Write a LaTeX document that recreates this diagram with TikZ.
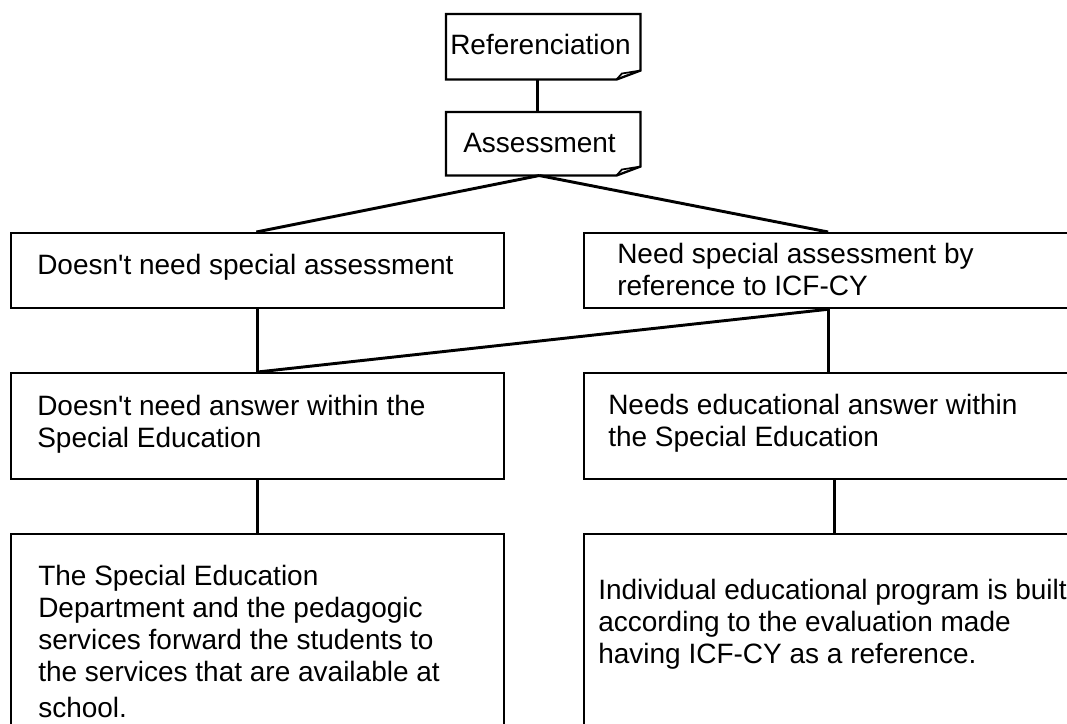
\documentclass[tikz,border=0pt]{standalone}
\usepackage{fontspec}
\newfontfamily\plainfont{Liberation Sans}
\usetikzlibrary{calc}
\begin{document}
\begin{tikzpicture}[x=0.75pt,y=-0.75pt,
  boxshape/.style={draw=black,line width=1.7pt,inner sep=0pt,anchor=north west,fill=white},
  noteshape/.style={draw=none,inner sep=0pt,anchor=north west},
  label/.style={anchor=base west,inner sep=0pt,align=left,font=\plainfont\fontsize{21}{24}\selectfont},
  link/.style={draw=black,line width=2.2pt}]
\useasboundingbox[fill=white] (0,0) rectangle (1067,724);
% note shapes
\node[noteshape,minimum width=145.5pt,minimum height=48.75pt] (ref) at (446,14) {};
\node[noteshape,minimum width=145.5pt,minimum height=47.25pt] (ass) at (446,112) {};
\foreach \n in {ref,ass}{
  \draw[line width=1.7pt,line join=miter]
    (\n.north west) -- (\n.north east) -- ([yshift=6.75pt]\n.south east)
    -- ([xshift=-18pt]\n.south east) -- (\n.south west) -- cycle;
  \draw[line width=1.3pt]
    ([xshift=-18pt]\n.south east) -- ([xshift=-14pt,yshift=4.5pt]\n.south east)
    -- ([yshift=6.75pt]\n.south east);
}
% boxes
\node[boxshape,minimum width=369.75pt,minimum height=56.25pt] (b1) at (10,232) {};
\node[boxshape,minimum width=366pt,minimum height=56.25pt] (b2) at (583,232) {};
\node[boxshape,minimum width=369.75pt,minimum height=79.5pt] (b3) at (10,372) {};
\node[boxshape,minimum width=366pt,minimum height=79.5pt] (b4) at (583,372) {};
\node[boxshape,minimum width=369.75pt,minimum height=150pt] (b5) at (10,533) {};
\node[boxshape,minimum width=366pt,minimum height=150pt] (b6) at (583,533) {};
% connectors
\coordinate (assb) at ([xshift=-3pt]ass.south);
\draw[link] ([xshift=-4.5pt]ref.south) -- ([xshift=-4.5pt]ass.north);
\draw[link] (assb) -- ([xshift=-1pt]b1.north);
\draw[link] (assb) -- (b2.north);
\draw[link] (b1.south) -- (b3.north);
\draw[link] (b2.south) -- (b3.north);
\draw[link] (b2.south) -- (b4.north);
\draw[link] (b3.south) -- (b5.north);
\draw[link] ([xshift=5pt]b4.south) -- ([xshift=5pt]b6.north);
% texts
\node[label] (tref) at (450,55) {Referenciation};
\node[label] (tass) at (463,152) {Assessment};
\node[label] (t1) at (37,274) {Doesn't need special assessment};
\node[label] (t2) at (617,295) {Need special assessment by\\reference to ICF-CY};
\node[label] (t3) at (37,447) {Doesn't need answer within the\\Special Education};
\node[label] (t4) at (608,446) {Needs educational answer within\\the Special Education};
\node[label] (t5) at (38,717) {The Special Education\\Department and the pedagogic\\services forward the students to\\the services that are available at\\[3pt]school.};
\node[label] (t6) at (598,663) {Individual educational program is built\\according to the evaluation made\\having ICF-CY as a reference.};
\end{tikzpicture}
\end{document}
